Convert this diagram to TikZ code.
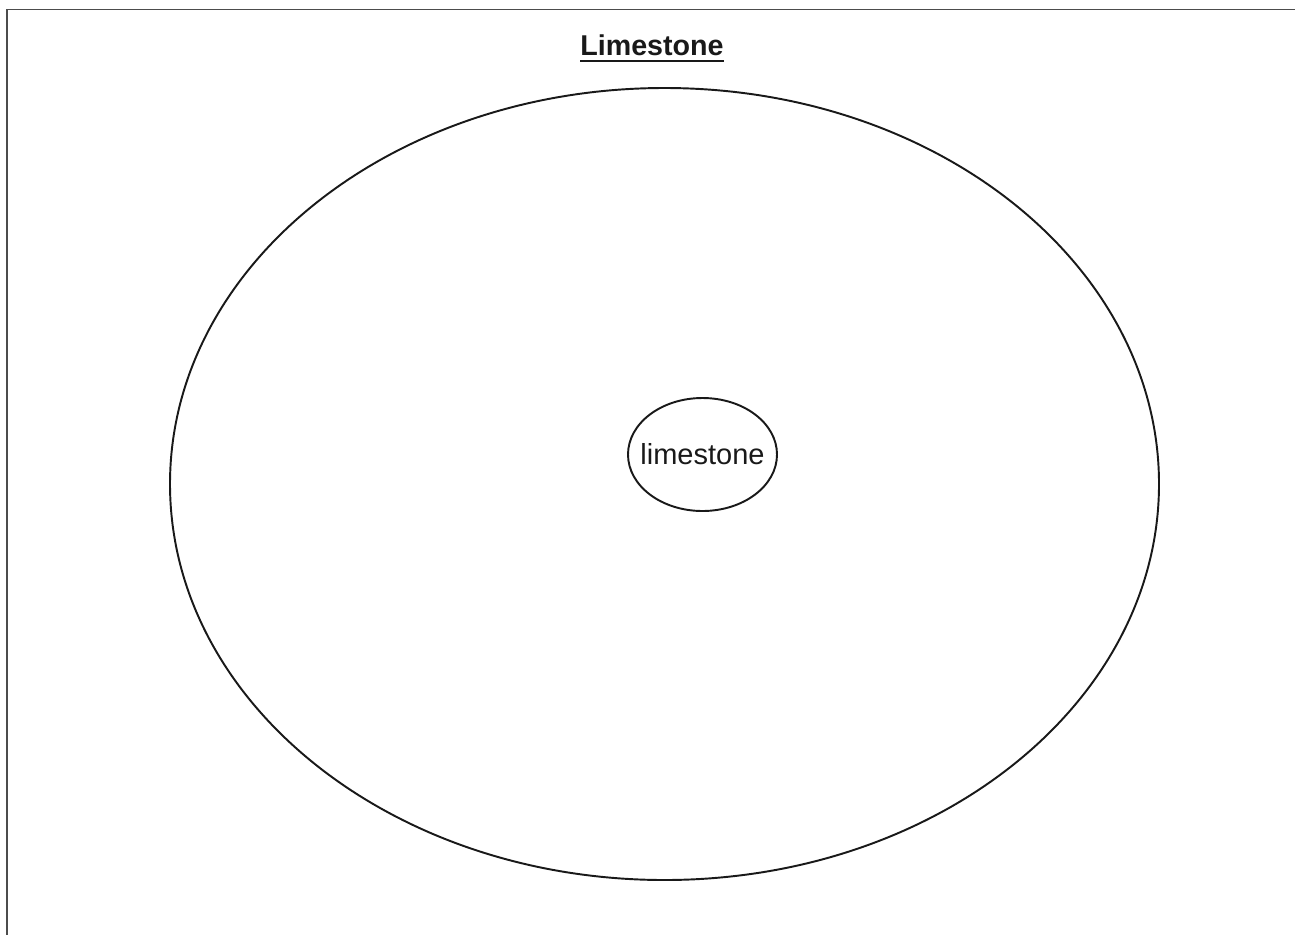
\documentclass[tikz,border=0pt]{standalone}
\usepackage{fontspec}
\setmainfont{Liberation Sans}
\usetikzlibrary{shapes.geometric}

\begin{document}
\begin{tikzpicture}[
  frameline/.style={line width=1pt, draw=black!70},
  region/.style={ellipse, draw=black!90, line width=1.1pt, inner sep=0pt},
  title/.style={font=\fontsize{16.3}{19}\selectfont\bfseries, text=black!90, inner sep=0pt},
  label/.style={font=\fontsize{16.5}{19}\selectfont, text=black!90},
]
  % page size 1295x935 px at 0.02cm per px
  \useasboundingbox (0,0) rectangle (25.9,-18.7);

  % frame (only top and left edges show)
  \coordinate (frametop) at (25.9,-0.19);
  \coordinate (framecorner) at (0.14,-0.19);
  \coordinate (framebottom) at (0.14,-18.7);
  \draw[frameline] (frametop) -- (framecorner) -- (framebottom);

  % title
  \node[title, anchor=base] (heading) at (13.04,-1.1) {Limestone};
  \draw[line width=1.1pt, black!90] ([yshift=-3.2pt]heading.base west) -- ([yshift=-3.2pt]heading.base east);

  % outer circle
  \node[region, minimum width=19.78cm, minimum height=15.84cm] (outer) at (13.29,-9.68) {};

  % inner circle
  \node[region, minimum width=2.98cm, minimum height=2.26cm] (inner) at (14.05,-9.09) {};
  \node[label] (innertext) at (inner.center) {limestone};

\end{tikzpicture}
\end{document}
